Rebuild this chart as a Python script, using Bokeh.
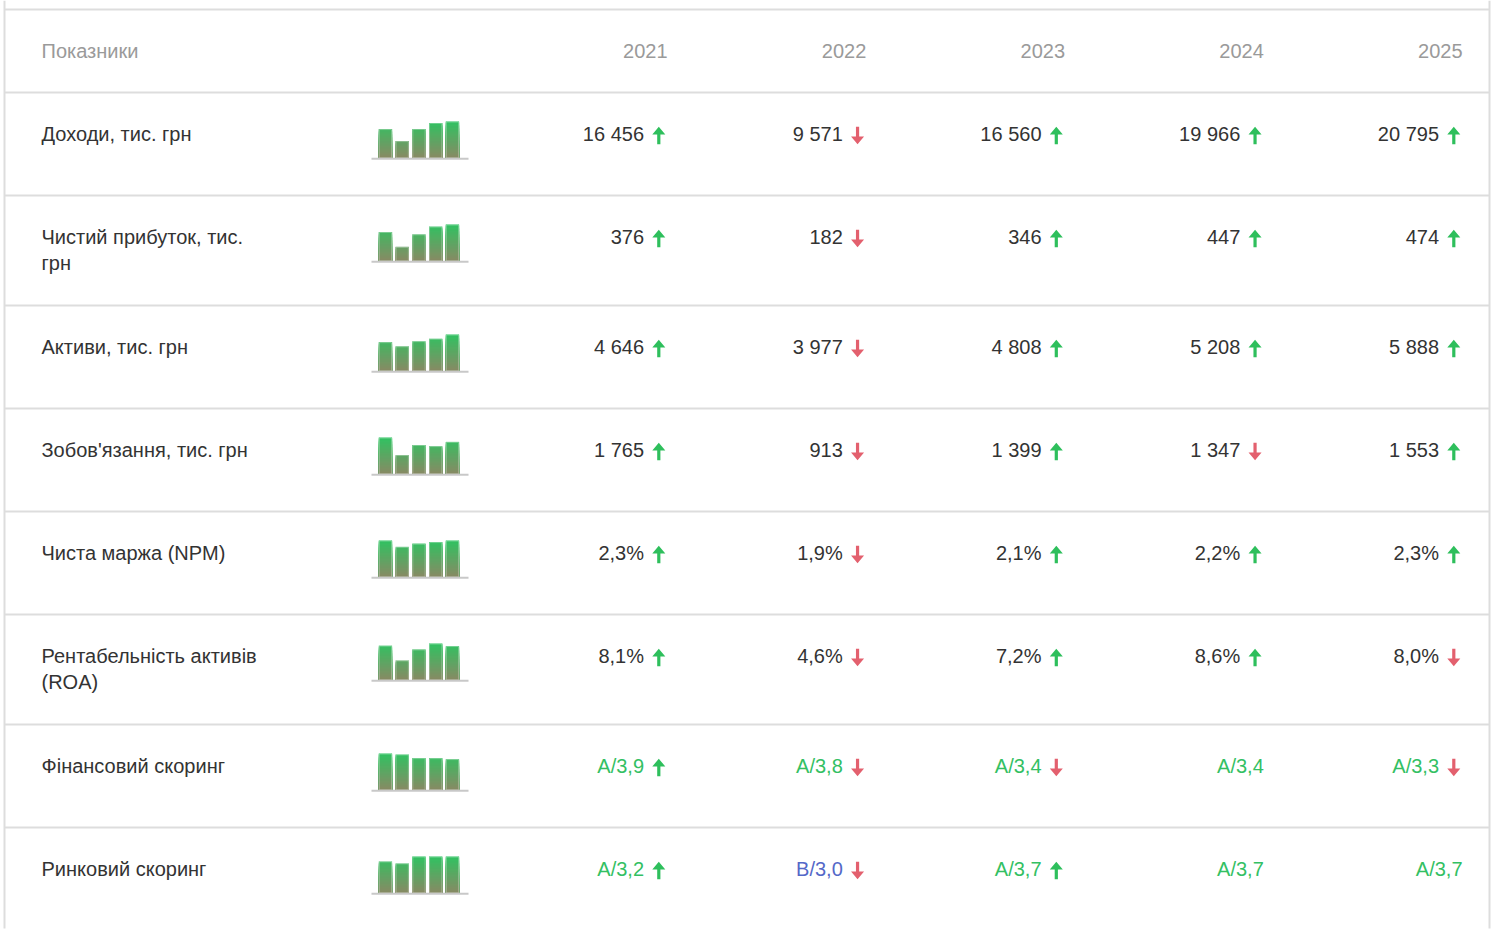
import math
from bokeh.plotting import figure
from bokeh.models import Range1d
from bokeh.core.properties import value
from bokeh.embed import file_html
from bokeh.resources import INLINE

# ---------------- data ----------------
header_label = "Показники"
years = ["2021", "2022", "2023", "2024", "2025"]
labels = [
    "Доходи, тис. грн",
    "Чистий прибуток, тис.\nгрн",
    "Активи, тис. грн",
    "Зобов'язання, тис. грн",
    "Чиста маржа (NPM)",
    "Рентабельність активів\n(ROA)",
    "Фінансовий скоринг",
    "Ринковий скоринг",
]

revenue = [16456, 9571, 16560, 19966, 20795]
net_profit = [376, 182, 346, 447, 474]
assets = [4646, 3977, 4808, 5208, 5888]
liabilities = [1765, 913, 1399, 1347, 1553]
npm = [2.3, 1.9, 2.1, 2.2, 2.3]
roa = [8.1, 4.6, 7.2, 8.6, 8.0]
fin_score = [3.9, 3.8, 3.4, 3.4, 3.3]
fin_grade = ["A", "A", "A", "A", "A"]
mkt_score = [3.2, 3.0, 3.7, 3.7, 3.7]
mkt_grade = ["A", "B", "A", "A", "A"]

revenue_trend = ["up", "down", "up", "up", "up"]
profit_trend = ["up", "down", "up", "up", "up"]
assets_trend = ["up", "down", "up", "up", "up"]
liab_trend = ["up", "down", "up", "down", "up"]
npm_trend = ["up", "down", "up", "up", "up"]
roa_trend = ["up", "down", "up", "up", "down"]
fin_trend = ["up", "down", "down", "", "down"]
mkt_trend = ["up", "down", "up", "", ""]

# ---------------- formatting ----------------
def fmt_int(v):
    return f"{v:,}".replace(",", " ")

def fmt_pct(v):
    return f"{v:.1f}".replace(".", ",") + "%"

def fmt_score(g, s):
    return f"{g}/{s:.1f}".replace(".", ",")

TEXT_DARK = "#333333"
GREEN_TXT = "#33c063"
BLUE_TXT = "#5468c8"
GRADE_COLORS = {"A": GREEN_TXT, "B": BLUE_TXT}

rows = [
    (revenue, [fmt_int(v) for v in revenue], [TEXT_DARK] * 5, revenue_trend),
    (net_profit, [fmt_int(v) for v in net_profit], [TEXT_DARK] * 5, profit_trend),
    (assets, [fmt_int(v) for v in assets], [TEXT_DARK] * 5, assets_trend),
    (liabilities, [fmt_int(v) for v in liabilities], [TEXT_DARK] * 5, liab_trend),
    (npm, [fmt_pct(v) for v in npm], [TEXT_DARK] * 5, npm_trend),
    (roa, [fmt_pct(v) for v in roa], [TEXT_DARK] * 5, roa_trend),
    (fin_score, [fmt_score(g, s) for g, s in zip(fin_grade, fin_score)],
     [GRADE_COLORS[g] for g in fin_grade], fin_trend),
    (mkt_score, [fmt_score(g, s) for g, s in zip(mkt_grade, mkt_score)],
     [GRADE_COLORS[g] for g in mkt_grade], mkt_trend),
]

# ---------------- layout (pixels) ----------------
W, H = 1491, 942
FONT = value("Liberation Sans")
FSIZE = "20px"

LEFT_X, RIGHT_X = 4, min(1496, W - 2)
TOP_LINE = 9
HEADER_H = 83
TEXT_DY = 41.0
LINE_H = 26.5
LABEL_X = 41
COL_RIGHT0, COL_STEP = 667, 198.75
SPARK_X0, SPARK_X1 = 371, 468
BAR_X0, BAR_PITCH, BAR_W = 378.3, 16.75, 13.3
BAR_MAX_H = 36.3
SPARK_DY = 65.3
BOTTOM = 928

UP_COLOR = "#2ebf5c"
DOWN_COLOR = "#e3606e"
LINE_COLOR = "#dddddd"
GRAD_TOP = (0x30, 0xc2, 0x62)
GRAD_BOT = (0x88, 0x8a, 0x63)

p = figure(width=W, height=H, x_range=Range1d(0, W), y_range=Range1d(H, 0),
           output_backend="svg", toolbar_location=None, min_border=0)
p.axis.visible = False
p.grid.visible = False
p.outline_line_color = None
p.background_fill_color = "white"
p.border_fill_color = "white"

# row geometry
row_tops = []
t = TOP_LINE + HEADER_H
for lab in labels:
    row_tops.append(t)
    t += 103 + 7 * (len(lab.split("\n")) - 1)

# grid lines
hy = [TOP_LINE] + row_tops
p.segment(x0=[LEFT_X] * len(hy), x1=[RIGHT_X] * len(hy), y0=hy, y1=hy,
          line_color=LINE_COLOR, line_width=2)
p.segment(x0=[LEFT_X, RIGHT_X], x1=[LEFT_X, RIGHT_X], y0=[0, 0], y1=[BOTTOM, BOTTOM],
          line_color=LINE_COLOR, line_width=2)

# header
p.text(x=[LABEL_X], y=[TOP_LINE + TEXT_DY], text=[header_label],
       text_font=FONT, text_font_size=FSIZE, text_color="#9a9a9a",
       text_align="left", text_baseline="middle")
col_rights = [COL_RIGHT0 + i * COL_STEP for i in range(len(years))]
p.text(x=col_rights, y=[TOP_LINE + TEXT_DY] * len(years), text=years,
       text_font=FONT, text_font_size=FSIZE, text_color="#9a9a9a",
       text_align="right", text_baseline="middle")

# labels
lx, ly, lt = [], [], []
for top, lab in zip(row_tops, labels):
    for k, line in enumerate(lab.split("\n")):
        lx.append(LABEL_X); ly.append(top + TEXT_DY + k * LINE_H); lt.append(line)
p.text(x=lx, y=ly, text=lt, text_font=FONT, text_font_size=FSIZE, text_color=TEXT_DARK,
       text_align="left", text_baseline="middle")

# values + arrows
vx, vy, vt, vc = [], [], [], []
arrows_x, arrows_y, arrows_c = [], [], []
for top, (vals, texts, colors, trend) in zip(row_tops, rows):
    cy = top + TEXT_DY
    for i, (txt, col, tr) in enumerate(zip(texts, colors, trend)):
        cr = col_rights[i]
        if tr:
            vx.append(cr - 23.5)
            ax = cr - 8.7
            ay = cy + 2
            if tr == "up":
                xs = [ax - 6.5, ax, ax + 6.5, ax + 1.6, ax + 1.6, ax - 1.6, ax - 1.6]
                ys = [ay - 1, ay - 8.8, ay - 1, ay - 1, ay + 8.8, ay + 8.8, ay - 1]
                c = UP_COLOR
            else:
                xs = [ax - 6.5, ax, ax + 6.5, ax + 1.6, ax + 1.6, ax - 1.6, ax - 1.6]
                ys = [ay + 1, ay + 8.8, ay + 1, ay + 1, ay - 8.8, ay - 8.8, ay + 1]
                c = DOWN_COLOR
            arrows_x.append(xs); arrows_y.append(ys); arrows_c.append(c)
        else:
            vx.append(cr)
        vy.append(cy); vt.append(txt); vc.append(col)

p.text(x=vx, y=vy, text=vt, text_color=vc, text_font=FONT, text_font_size=FSIZE,
       text_align="right", text_baseline="middle")
p.patches(xs=arrows_x, ys=arrows_y, fill_color=arrows_c, line_color=None)

# sparklines (gradient drawn as overlapping stacked quads, tallest first)
def mix(t):
    r = [round(GRAD_BOT[k] + (GRAD_TOP[k] - GRAD_BOT[k]) * t) for k in range(3)]
    return "#%02x%02x%02x" % tuple(r)

ql, qr, qt, qb, qc = [], [], [], [], []
ol, orr, ot, ob = [], [], [], []
bl_x0, bl_x1, bl_y = [], [], []
STEP = 1.5
for top, (vals, _, _, _) in zip(row_tops, rows):
    base = top + SPARK_DY
    vmax = max(vals)
    for i, v in enumerate(vals):
        h = v / vmax * BAR_MAX_H
        x0 = BAR_X0 + i * BAR_PITCH
        n = int(math.ceil(h / STEP))
        for k in reversed(range(n)):
            y1 = min(h, (k + 1) * STEP)
            ql.append(x0); qr.append(x0 + BAR_W)
            qb.append(base); qt.append(base - y1)
            qc.append(mix(((k + 0.5) * STEP) / BAR_MAX_H))
        ol.append(x0 + 0.5); orr.append(x0 + BAR_W - 0.5); ob.append(base); ot.append(base - h + 0.5)
    bl_x0.append(SPARK_X0); bl_x1.append(SPARK_X1); bl_y.append(base + 1)

p.quad(left=ql, right=qr, top=qt, bottom=qb, fill_color=qc, line_color=None)
p.quad(left=ol, right=orr, top=ot, bottom=ob, fill_color=None,
       line_color="#ffffff", line_alpha=0.3, line_width=1)
p.segment(x0=bl_x0, x1=bl_x1, y0=bl_y, y1=bl_y, line_color="#c8c8c8", line_width=2)

open("out.html", "w").write(file_html(p, INLINE))
